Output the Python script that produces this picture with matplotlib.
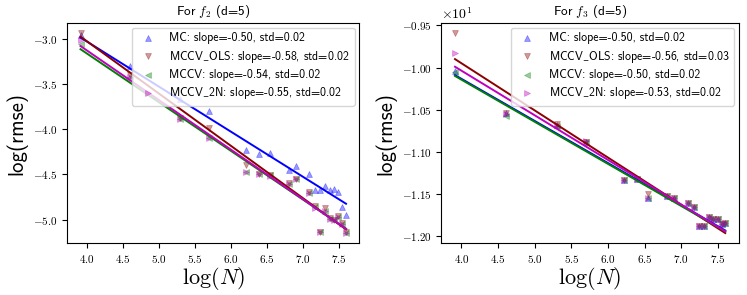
import numpy as np
import matplotlib
matplotlib.use('Agg')
import matplotlib.pyplot as plt
from matplotlib.ticker import MultipleLocator

plt.rcParams['font.family'] = 'serif'
plt.rcParams['font.serif'] = ['cmr10']
plt.rcParams['mathtext.fontset'] = 'cm'
plt.rcParams['axes.formatter.use_mathtext'] = True

SANS = 'cmss10'

# sample sizes (x axis is log N)
N = [50, 100, 200, 300, 500, 600, 700, 900, 1000, 1200, 1300, 1400, 1500, 1600, 1700, 1800, 1900, 2000]
labels = ['MC', r'MCCV$\_$OLS', 'MCCV', r'MCCV$\_$2N']
markers = ['^', 'v', '<', '>']
colors = ['b', 'darkred', 'green', 'm']

# f2 : log(rmse)
f2_mc = [-2.95, -3.30, -3.66, -3.79, -4.23, -4.27, -4.26, -4.45, -4.41, -4.49, -4.67, -4.67, -4.63, -4.67, -4.66, -4.69, -4.86, -4.95]
f2_ols = [-2.93, -3.40, -3.87, -3.98, -4.40, -4.50, -4.51, -4.59, -4.545, -4.69, -4.85, -5.14, -4.87, -4.98, -5.01, -4.96, -5.04, -5.14]
f2_mccv = [-3.05, -3.42, -3.88, -4.10, -4.47, -4.50, -4.51, -4.60, -4.55, -4.70, -4.86, -5.14, -4.90, -4.99, -5.01, -4.97, -5.05, -5.15]
f2_2n = [-3.01, -3.42, -3.88, -4.09, -4.47, -4.50, -4.52, -4.60, -4.55, -4.70, -4.87, -5.14, -4.90, -4.99, -5.01, -4.97, -5.05, -5.15]
f2_slope = [-0.50, -0.58, -0.54, -0.55]
f2_icpt = [-1.024, -0.701, -0.997, -0.923]
f2_std = [0.02, 0.02, 0.02, 0.02]

# f3 : log(rmse)
f3_mc = [-10.04, -10.54, -10.68, -10.88, -11.34, -11.32, -11.55, -11.52, -11.55, -11.61, -11.65, -11.88, -11.88, -11.78, -11.80, -11.80, -11.86, -11.85]
f3_ols = [-9.59, -10.54, -10.67, -10.88, -11.34, -11.32, -11.50, -11.52, -11.55, -11.61, -11.65, -11.88, -11.88, -11.78, -11.80, -11.80, -11.86, -11.85]
f3_mccv = [-10.05, -10.58, -10.69, -10.88, -11.34, -11.32, -11.55, -11.52, -11.55, -11.61, -11.65, -11.88, -11.88, -11.78, -11.80, -11.80, -11.86, -11.85]
f3_2n = [-9.83, -10.55, -10.68, -10.87, -11.34, -11.32, -11.55, -11.52, -11.55, -11.61, -11.65, -11.88, -11.88, -11.78, -11.80, -11.80, -11.86, -11.85]
f3_slope = [-0.50, -0.56, -0.50, -0.53]
f3_icpt = [-8.134, -7.709, -8.144, -7.917]
f3_std = [0.02, 0.03, 0.02, 0.02]


def panel(ax, series, slopes, icpts, stds, title):
    x = np.log(N)
    for i, y in enumerate(series):
        lab = f"{labels[i]}: slope=-{abs(slopes[i]):.2f}, std={stds[i]:.2f}"
        ax.scatter(x, y, marker=markers[i], color=colors[i], alpha=0.4, s=18,
                   linewidths=0.5, label=lab)
        ax.plot(x, slopes[i] * x + icpts[i], color=colors[i], lw=1.4)
    ax.set_title(title, fontsize=9.5, family=SANS)
    ax.set_xlabel(r'$\log(N)$', fontsize=16, labelpad=0)
    ax.set_ylabel('log(rmse)', fontsize=15, family=SANS)
    ax.xaxis.set_major_locator(MultipleLocator(0.5))
    ax.ticklabel_format(axis='y', style='sci', scilimits=(0, 0), useMathText=True)
    ax.tick_params(labelsize=8)
    ax.legend(loc='upper right', prop={'family': SANS, 'size': 8.5},
              labelspacing=0.35, borderaxespad=0.4)


fig = plt.figure(figsize=(7.47, 2.95), dpi=100)
ax1 = fig.add_axes([0.090, 0.176, 0.391, 0.746])
ax2 = fig.add_axes([0.591, 0.176, 0.398, 0.746])

panel(ax1, [f2_mc, f2_ols, f2_mccv, f2_2n], f2_slope, f2_icpt, f2_std, r'For $f_2$ (d=5)')
panel(ax2, [f3_mc, f3_ols, f3_mccv, f3_2n], f3_slope, f3_icpt, f3_std, r'For $f_3$ (d=5)')

fig.savefig('out.png', dpi=100)
